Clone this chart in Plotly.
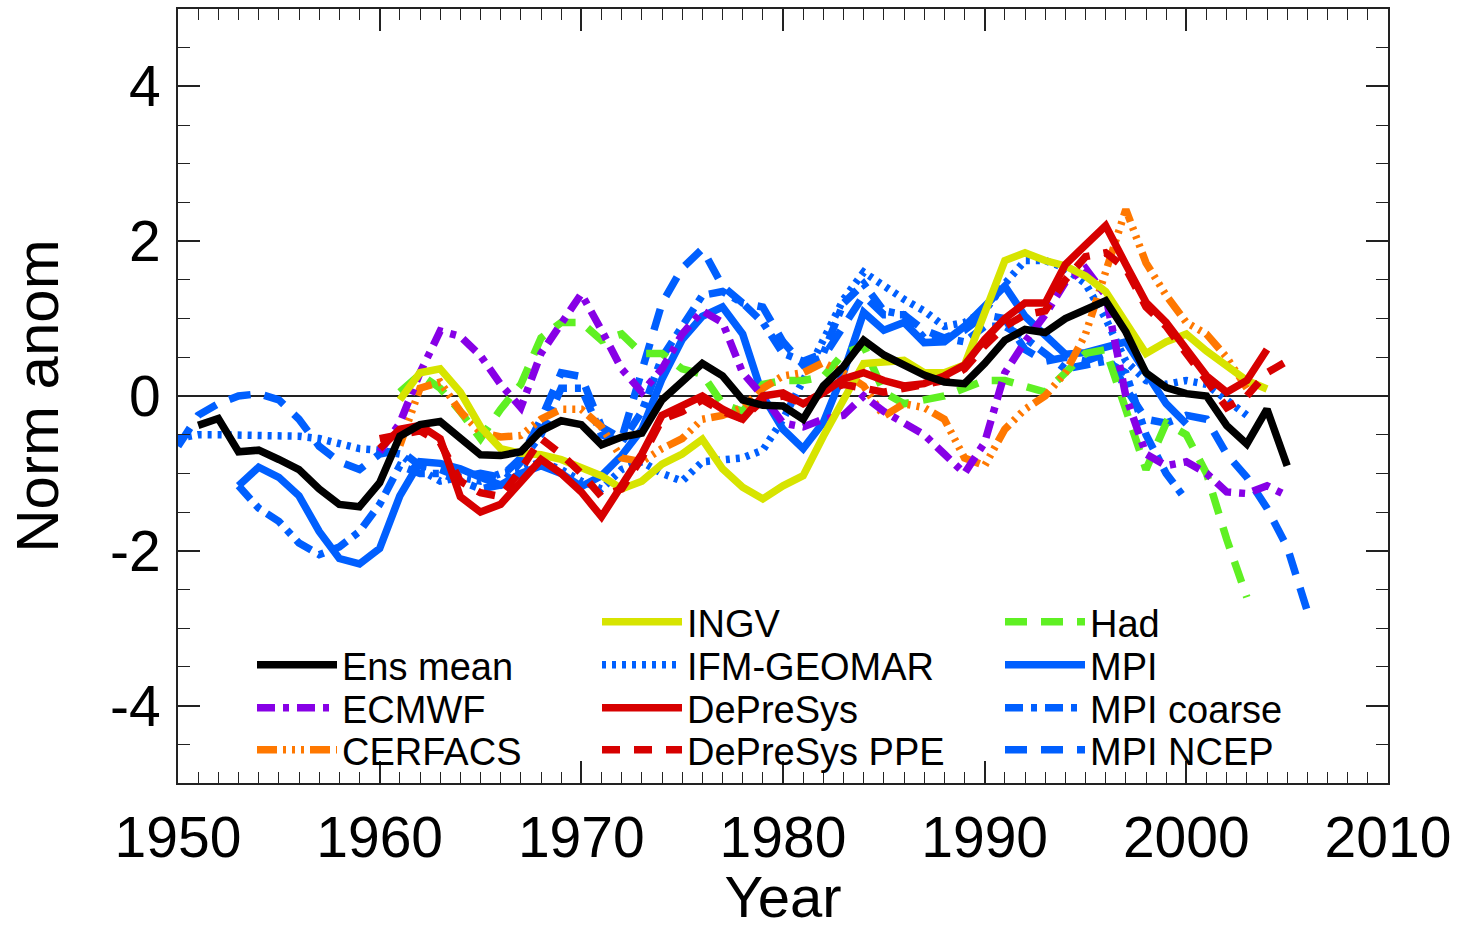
import plotly.graph_objects as go

# ---- data: normalised anomalies per model, one value per year ----
ens_mean_start = 1951
ens_mean = [-0.38, -0.29, -0.72, -0.70, -0.82, -0.95, -1.20, -1.40, -1.43, -1.12,
            -0.52, -0.37, -0.33, -0.55, -0.76, -0.77, -0.72, -0.45, -0.32, -0.37,
            -0.63, -0.53, -0.48, -0.05, 0.20, 0.42, 0.26, -0.05, -0.12, -0.13,
            -0.30, 0.13, 0.38, 0.72, 0.53, 0.40, 0.27, 0.18, 0.16, 0.42,
            0.72, 0.86, 0.82, 1.00, 1.12, 1.23, 0.83, 0.30, 0.11, 0.03,
            0.00, -0.38, -0.62, -0.17, -0.90]

ecmwf_start = 1960
ecmwf = [-0.72, -0.35, 0.30, 0.84, 0.77, 0.52, 0.15, -0.15, 0.55, 0.95,
         1.32, 0.85, 0.35, 0.05, 0.35, 0.80, 1.10, 0.95, 0.30, 0.00,
         -0.35, -0.40, -0.30, -0.25, 0.00, -0.20, -0.35, -0.50, -0.75, -1.00,
         -0.60, 0.30, 0.70, 1.05, 1.47, 1.65, 1.30, 0.00, -0.75, -0.90,
         -0.85, -1.00, -1.24, -1.26, -1.16, -1.29]

cerfacs_start = 1961
cerfacs = [-0.64, 0.10, 0.18, -0.20, -0.47, -0.53, -0.51, -0.30, -0.17, -0.17,
           -0.40, -0.80, -0.85, -0.68, -0.55, -0.30, -0.25, -0.15, 0.10, 0.26,
           0.30, 0.43, 0.30, 0.13, -0.26, -0.10, -0.15, -0.30, -0.80, -0.90,
           -0.43, -0.17, 0.00, 0.30, 0.80, 1.60, 2.41, 1.72, 1.30, 0.95,
           0.80, 0.50, 0.10]

ingv_start = 1961
ingv = [-0.05, 0.30, 0.35, 0.05, -0.40, -0.68, -0.74, -0.76, -0.82, -0.92,
        -1.03, -1.20, -1.10, -0.88, -0.75, -0.56, -0.94, -1.18, -1.33, -1.16,
        -1.03, -0.52, -0.04, 0.42, 0.44, 0.46, 0.30, 0.30, 0.40, 1.05,
        1.75, 1.85, 1.75, 1.68, 1.55, 1.35, 0.95, 0.55, 0.70, 0.80,
        0.58, 0.38, 0.20, 0.09]

ifm_geomar_start = 1950
ifm_geomar = [-0.55, -0.50, -0.50, -0.50, -0.50, -0.50, -0.52, -0.55, -0.62, -0.68,
              -0.70, -0.75, -0.95, -1.10, -1.05, -1.10, -1.00, -0.95, -0.85, -0.95,
              -1.10, -1.20, -0.95, -0.85, -1.00, -1.10, -0.85, -0.82, -0.80, -0.70,
              -0.30, 0.20, 0.75, 1.25, 1.60, 1.42, 1.25, 1.10, 0.90, 0.95,
              1.10, 1.45, 1.75, 1.75, 1.65, 1.45, 1.00, 0.45, 0.20, 0.15,
              0.20, 0.15, -0.05, -0.25]

depresys_start = 1960
depresys = [-0.68, -0.43, -0.38, -0.55, -1.30, -1.50, -1.40, -1.10, -0.82, -1.00,
            -1.24, -1.56, -1.15, -0.75, -0.25, -0.12, 0.00, -0.17, -0.30, 0.00,
            0.04, -0.10, 0.04, 0.22, 0.30, 0.20, 0.13, 0.16, 0.26, 0.40,
            0.73, 1.00, 1.20, 1.20, 1.70, 1.95, 2.20, 1.70, 1.21, 0.95,
            0.60, 0.26, 0.05, 0.20, 0.60]

depresys_ppe_start = 1960
depresys_ppe = [-0.55, -0.50, -0.45, -0.60, -1.10, -1.25, -1.30, -0.95, -0.55, -0.75,
                -1.00, -1.30, -1.20, -0.80, -0.30, -0.20, -0.05, -0.20, -0.30, -0.05,
                0.00, -0.10, 0.05, 0.15, 0.10, 0.05, 0.10, 0.15, 0.20, 0.35,
                0.65, 0.90, 1.05, 1.10, 1.50, 1.80, 1.85, 1.65, 1.15, 0.90,
                0.55, 0.20, -0.15, 0.00, 0.30, 0.45]

had_start = 1961
had = [0.05, 0.28, 0.10, -0.20, -0.55, -0.17, 0.15, 0.75, 0.95, 0.95,
       0.72, 0.80, 0.55, 0.55, 0.35, 0.28, -0.10, -0.20, 0.15, 0.20,
       0.20, 0.25, 0.55, 0.65, 0.05, -0.10, -0.05, 0.00, 0.10, 0.20,
       0.20, 0.12, 0.05, 0.30, 0.55, 0.60, -0.15, -0.95, -0.35, -0.50,
       -1.00, -1.85, -2.60]

mpi_start = 1953
mpi = [-1.16, -0.92, -1.05, -1.29, -1.75, -2.10, -2.17, -1.97, -1.29, -0.85,
       -0.87, -0.94, -1.05, -1.15, -1.00, -0.90, -1.00, -1.17, -1.03, -0.77,
       -0.43, 0.22, 0.73, 1.03, 1.15, 0.80, 0.00, -0.43, -0.68, -0.34,
       0.30, 1.08, 0.85, 0.95, 0.69, 0.70, 0.90, 1.16, 1.42, 1.03,
       0.78, 0.54, 0.56, 0.62, 0.70, 0.30, -0.10, -0.36]

mpi_coarse_start = 1953
mpi_coarse = [-1.16, -1.45, -1.62, -1.90, -2.05, -1.95, -1.75, -1.40, -0.90, -1.00,
              -1.00, -1.10, -1.20, -1.15, -0.85, -0.50, 0.10, 0.10, -0.50, -0.60,
              -0.20, 0.50, 0.90, 1.30, 1.35, 1.20, 0.95, 0.55, 0.45, 0.55,
              1.20, 1.45, 1.10, 1.05, 0.75, 0.75, 0.70, 0.90, 0.90, 0.75,
              0.55, 0.35, 0.40, 0.45, 0.30, -0.50, -1.00, -1.35]

mpi_ncep_start = 1950
mpi_ncep = [-0.65, -0.25, -0.10, 0.00, 0.03, -0.05, -0.30, -0.65, -0.85, -0.95,
            -0.75, -0.70, -0.90, -0.95, -1.05, -1.00, -1.05, -0.80, -0.30, 0.30,
            0.25, -0.40, -0.55, 0.35, 1.20, 1.65, 1.90, 1.42, 1.20, 1.15,
            0.70, 0.40, 0.50, 0.90, 1.30, 1.05, 1.05, 0.85, 0.75, 0.85,
            1.05, 1.00, 0.60, 0.45, 0.50, 0.45, 0.55, 0.10, -0.30, -0.35,
            -0.25, -0.30, -0.75, -1.05, -1.45, -1.95, -2.78]

y_tick_values = [-4, -2, 0, 2, 4]
y_tick_labels = ["-4", "-2", "0", "2", "4"]

# ---- styling ----
FONT = "Liberation Sans, Arial, Helvetica, sans-serif"
BLUE = "rgb(0,95,255)"
RED = "rgb(215,0,0)"

# name, start year, values, colour, dash, legend column, legend row
series = [
    ("IFM-GEOMAR", ifm_geomar_start, ifm_geomar, BLUE, "4px,6px", 1, 1),
    ("MPI NCEP", mpi_ncep_start, mpi_ncep, BLUE, "22px,14px", 2, 3),
    ("MPI coarse", mpi_coarse_start, mpi_coarse, BLUE, "18px,8px,6px,8px", 2, 2),
    ("MPI", mpi_start, mpi, BLUE, "solid", 2, 1),
    ("Had", had_start, had, "rgb(95,240,35)", "22px,14px", 2, 0),
    ("CERFACS", cerfacs_start, cerfacs, "rgb(255,120,0)", "20px,6px,3px,6px,3px,6px,3px,6px", 0, 3),
    ("ECMWF", ecmwf_start, ecmwf, "rgb(135,0,230)", "18px,8px,6px,8px", 0, 2),
    ("INGV", ingv_start, ingv, "rgb(215,228,0)", "solid", 1, 0),
    ("DePreSys PPE", depresys_ppe_start, depresys_ppe, RED, "18px,14px", 1, 3),
    ("DePreSys", depresys_start, depresys, RED, "solid", 1, 2),
    ("Ens mean", ens_mean_start, ens_mean, "black", "solid", 0, 1),
]

# plot area in pixels
L, R, T, B = 178, 1388, 9, 783
W, H = 1461, 929
col_px = [252, 597, 1000]
row_px = [622, 665, 708, 750]

fig = go.Figure()
layout_legends = {}
for i, (name, start, vals, color, dash, col, row) in enumerate(series):
    key = "legend" if i == 0 else f"legend{i + 1}"
    years = list(range(start, start + len(vals)))
    fig.add_trace(go.Scatter(
        x=years, y=vals, mode="lines", name=name,
        line=dict(color=color, width=7.5, dash=dash),
        legend=key, showlegend=True,
    ))
    layout_legends[key] = dict(
        x=(col_px[col] - L) / (R - L), y=(B - row_px[row]) / (B - T),
        xanchor="left", yanchor="middle",
        bgcolor="rgba(0,0,0,0)", borderwidth=0,
        font=dict(family=FONT, size=38, color="black"),
        itemwidth=80,
    )

axis_common = dict(
    showline=True, linecolor="#222", linewidth=2, mirror="allticks",
    ticks="inside", tickcolor="#222", tickwidth=1.5,
    showgrid=False, automargin=False,
    tickfont=dict(family=FONT, size=57, color="black"),
)

fig.update_layout(
    width=W, height=H,
    margin=dict(l=L, r=W - R, t=T, b=H - B),
    plot_bgcolor="white", paper_bgcolor="white",
    xaxis=dict(
        range=[1950, 2010], dtick=10, tick0=1950, ticklen=22,
        minor=dict(dtick=1, ticks="inside", ticklen=11, tickcolor="#222", tickwidth=1.2),
        ticklabelstandoff=4,
        title=dict(text="Year", font=dict(family=FONT, size=58, color="black"), standoff=6),
        zeroline=False,
        **axis_common,
    ),
    yaxis=dict(
        range=[-5, 5], tickmode="array", tickvals=y_tick_values, ticktext=y_tick_labels,
        ticklen=22,
        minor=dict(tickmode="linear", tick0=0, dtick=0.5, ticks="inside", ticklen=12,
                   tickcolor="#222", tickwidth=1.2),
        ticklabelstandoff=4,
        title=dict(text="Norm anom", font=dict(family=FONT, size=60, color="black"), standoff=32),
        zeroline=True, zerolinecolor="#222", zerolinewidth=1.5,
        **axis_common,
    ),
    **layout_legends,
)

fig.write_html("out.html")
